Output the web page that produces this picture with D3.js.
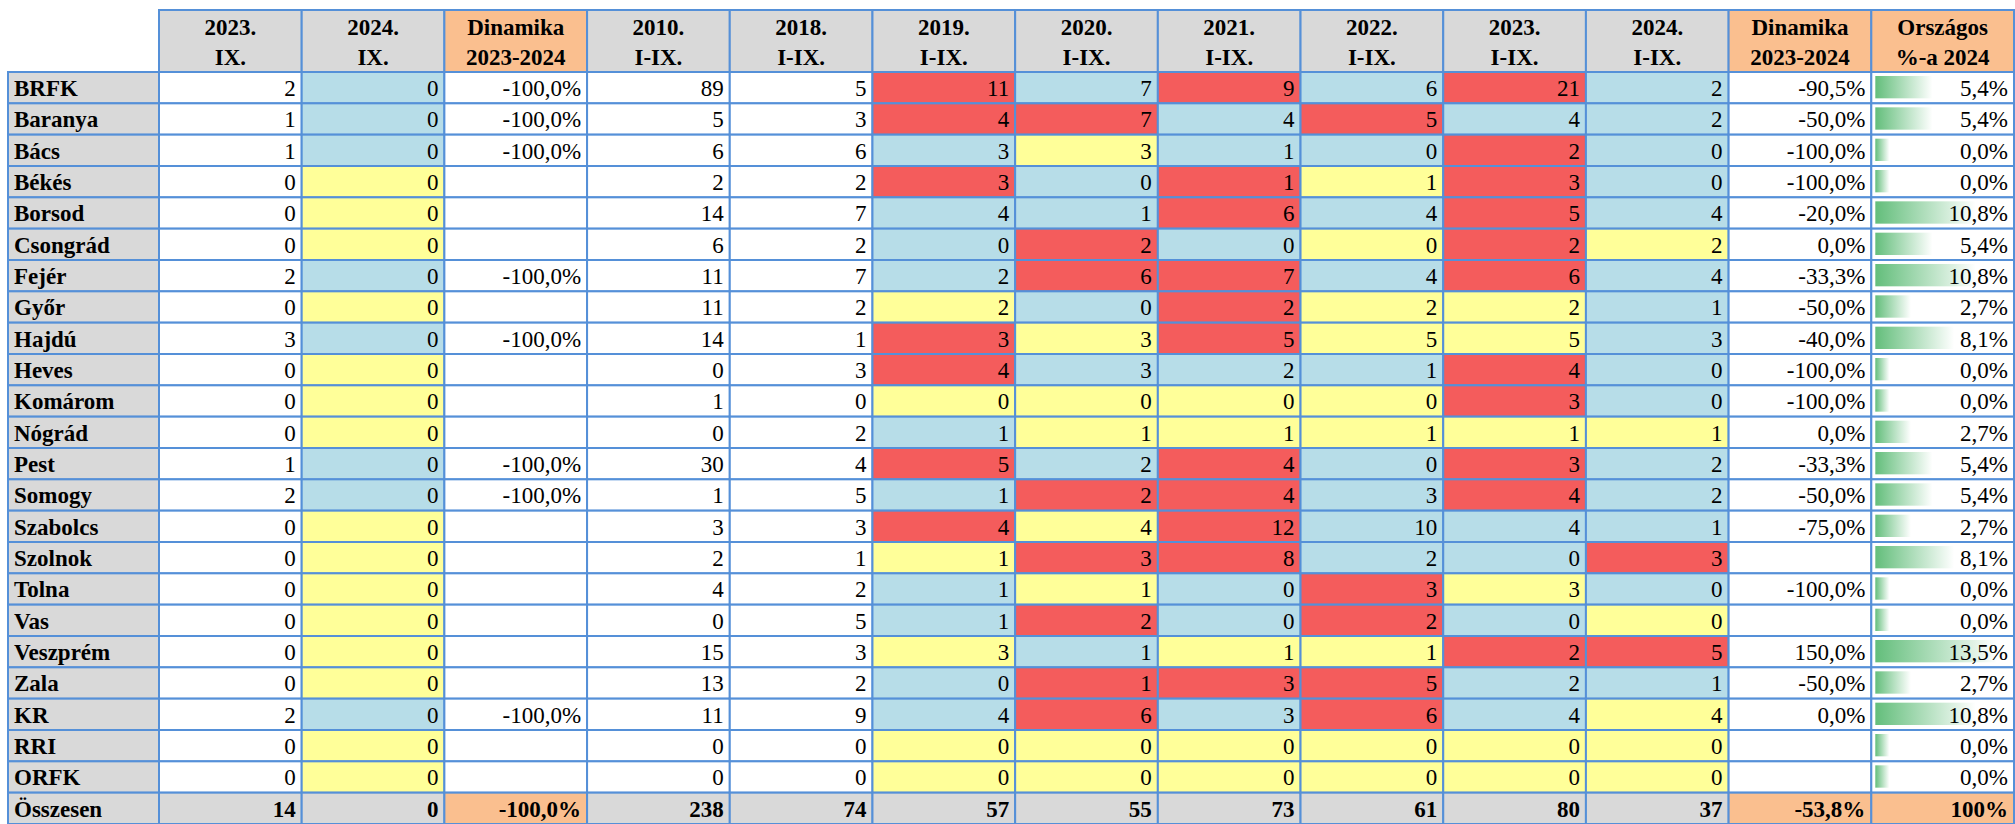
<!DOCTYPE html>
<html>
<head>
<meta charset="utf-8">
<script src="https://cdn.jsdelivr.net/npm/d3@7"></script>
<style>
body { margin: 0; background: #fff; }
text { font-family: "Liberation Serif", "Times New Roman", serif; fill: #000; }
.head { font-size: 23px; font-weight: bold; }
.lab { font-size: 23px; font-weight: bold; }
.val { font-size: 23px; }
.tot { font-size: 23px; font-weight: bold; }
</style>
</head>
<body>
<svg></svg>
<script>
var rowLabels = ["BRFK", "Baranya", "Bács", "Békés", "Borsod", "Csongrád", "Fejér", "Győr", "Hajdú", "Heves",
  "Komárom", "Nógrád", "Pest", "Somogy", "Szabolcs", "Szolnok", "Tolna", "Vas", "Veszprém", "Zala", "KR", "RRI", "ORFK"];
var totalLabel = "Összesen";

var ix2023 = [2, 1, 1, 0, 0, 0, 2, 0, 3, 0, 0, 0, 1, 2, 0, 0, 0, 0, 0, 0, 2, 0, 0];
var ix2024 = [0, 0, 0, 0, 0, 0, 0, 0, 0, 0, 0, 0, 0, 0, 0, 0, 0, 0, 0, 0, 0, 0, 0];
var dynIX = [-100, -100, -100, null, null, null, -100, null, -100, null, null, null, -100, -100, null, null, null, null, null, null, -100, null, null];

var y2010 = [89, 5, 6, 2, 14, 6, 11, 11, 14, 0, 1, 0, 30, 1, 3, 2, 4, 0, 15, 13, 11, 0, 0];
var y2018 = [5, 3, 6, 2, 7, 2, 7, 2, 1, 3, 0, 2, 4, 5, 3, 1, 2, 5, 3, 2, 9, 0, 0];
var y2019 = [11, 4, 3, 3, 4, 0, 2, 2, 3, 4, 0, 1, 5, 1, 4, 1, 1, 1, 3, 0, 4, 0, 0];
var y2020 = [7, 7, 3, 0, 1, 2, 6, 0, 3, 3, 0, 1, 2, 2, 4, 3, 1, 2, 1, 1, 6, 0, 0];
var y2021 = [9, 4, 1, 1, 6, 0, 7, 2, 5, 2, 0, 1, 4, 4, 12, 8, 0, 0, 1, 3, 3, 0, 0];
var y2022 = [6, 5, 0, 1, 4, 0, 4, 2, 5, 1, 0, 1, 0, 3, 10, 2, 3, 2, 1, 5, 6, 0, 0];
var y2023 = [21, 4, 2, 3, 5, 2, 6, 2, 5, 4, 3, 1, 3, 4, 4, 0, 3, 0, 2, 2, 4, 0, 0];
var y2024 = [2, 2, 0, 0, 4, 2, 4, 1, 3, 0, 0, 1, 2, 2, 1, 3, 0, 0, 5, 1, 4, 0, 0];
var dynI = [-90.5, -50, -100, -100, -20, 0, -33.3, -50, -40, -100, -100, 0, -33.3, -50, -75, null, -100, null, 150, -50, 0, null, null];
var share2024 = [5.4, 5.4, 0, 0, 10.8, 5.4, 10.8, 2.7, 8.1, 0, 0, 2.7, 5.4, 5.4, 2.7, 8.1, 0, 0, 13.5, 2.7, 10.8, 0, 0];

var totals = ["14", "0", "-100,0%", "238", "74", "57", "55", "73", "61", "80", "37", "-53,8%", "100%"];

var headTop = ["2023.", "2024.", "Dinamika", "2010.", "2018.", "2019.", "2020.", "2021.", "2022.", "2023.", "2024.", "Dinamika", "Országos"];
var headBottom = ["IX.", "IX.", "2023-2024", "I-IX.", "I-IX.", "I-IX.", "I-IX.", "I-IX.", "I-IX.", "I-IX.", "I-IX.", "2023-2024", "%-a 2024"];

// columns: values, which column it is compared to (for colouring), kind
var columns = [
  { vals: ix2023, prev: null, kind: "num" },
  { vals: ix2024, prev: ix2023, kind: "num" },
  { vals: dynIX, prev: null, kind: "pct", orange: true },
  { vals: y2010, prev: null, kind: "num" },
  { vals: y2018, prev: null, kind: "num" },
  { vals: y2019, prev: y2018, kind: "num" },
  { vals: y2020, prev: y2019, kind: "num" },
  { vals: y2021, prev: y2020, kind: "num" },
  { vals: y2022, prev: y2021, kind: "num" },
  { vals: y2023, prev: y2022, kind: "num" },
  { vals: y2024, prev: y2023, kind: "num" },
  { vals: dynI, prev: null, kind: "pct", orange: true },
  { vals: share2024, prev: null, kind: "bar", orange: true }
];

var W = 2015, H = 824;
var borderColor = "#5590d8";
var gray = "#d9d9d9", orange = "#fabf8f";
var red = "#f45c5c", blue = "#b7dde8", yellow = "#ffff99";

var svg = d3.select("svg").attr("width", W).attr("height", H);

var x = d3.scaleBand().domain(d3.range(columns.length)).range([159, 2014]);
var y = d3.scaleBand().domain(rowLabels.concat([totalLabel])).range([72, 824]);
var labelX0 = 8;
var headY0 = 10;

var hu = d3.formatLocale({ decimal: ",", thousands: " ", grouping: [3], currency: ["", ""], minus: "-" });
var f1 = hu.format(".1f");

var defs = svg.append("defs");
var grad = defs.append("linearGradient").attr("id", "bargrad");
grad.append("stop").attr("offset", "0%").attr("stop-color", "#63be7b");
grad.append("stop").attr("offset", "100%").attr("stop-color", "#ffffff");

var barW = d3.scaleLinear().domain([0, d3.max(share2024)]).range([14, 122]);

function cellFill(col, i) {
  if (col.prev === null) return "#ffffff";
  var v = col.vals[i], p = col.prev[i];
  if (v > p) return red;
  if (v < p) return blue;
  return yellow;
}

// header row
var head = svg.append("g").selectAll("g")
  .data(columns)
  .enter()
  .append("g");

head.append("rect")
  .attr("x", function (d, i) { return x(i); })
  .attr("y", headY0)
  .attr("width", x.bandwidth())
  .attr("height", y.range()[0] - headY0)
  .attr("fill", function (d) { return d.orange ? orange : gray; })
  .attr("stroke", borderColor)
  .attr("stroke-width", 2);

head.append("text")
  .attr("class", "head")
  .attr("x", function (d, i) { return x(i) + x.bandwidth() / 2; })
  .attr("y", 35)
  .attr("text-anchor", "middle")
  .text(function (d, i) { return headTop[i]; });

head.append("text")
  .attr("class", "head")
  .attr("x", function (d, i) { return x(i) + x.bandwidth() / 2; })
  .attr("y", 65)
  .attr("text-anchor", "middle")
  .text(function (d, i) { return headBottom[i]; });

// row label column
var labels = svg.append("g").selectAll("g")
  .data(y.domain())
  .enter()
  .append("g");

labels.append("rect")
  .attr("x", labelX0)
  .attr("y", function (d) { return y(d); })
  .attr("width", x.range()[0] - labelX0)
  .attr("height", y.bandwidth())
  .attr("fill", gray)
  .attr("stroke", borderColor)
  .attr("stroke-width", 2);

labels.append("text")
  .attr("class", "lab")
  .attr("x", labelX0 + 6)
  .attr("y", function (d) { return y(d) + 24; })
  .text(function (d) { return d; });

// body cells
columns.forEach(function (col, ci) {
  var g = svg.append("g");
  var cells = g.selectAll("g")
    .data(rowLabels)
    .enter()
    .append("g");

  cells.append("rect")
    .attr("x", x(ci))
    .attr("y", function (d) { return y(d); })
    .attr("width", x.bandwidth())
    .attr("height", y.bandwidth())
    .attr("fill", function (d, i) { return cellFill(col, i); })
    .attr("stroke", borderColor)
    .attr("stroke-width", 2);

  if (col.kind === "bar") {
    cells.append("rect")
      .attr("x", x(ci) + 4)
      .attr("y", function (d) { return y(d) + 4; })
      .attr("width", function (d, i) { return barW(col.vals[i]); })
      .attr("height", y.bandwidth() - 9)
      .attr("fill", "url(#bargrad)");
  }

  cells.append("text")
    .attr("class", "val")
    .attr("x", x(ci) + x.bandwidth() - 6)
    .attr("y", function (d) { return y(d) + 24; })
    .attr("text-anchor", "end")
    .text(function (d, i) {
      var v = col.vals[i];
      if (v === null) return "";
      if (col.kind === "num") return v;
      return f1(v) + "%";
    });

  // total row
  var tg = g.append("g");
  tg.append("rect")
    .attr("x", x(ci))
    .attr("y", y(totalLabel))
    .attr("width", x.bandwidth())
    .attr("height", y.bandwidth())
    .attr("fill", col.kind === "num" ? gray : orange)
    .attr("stroke", borderColor)
    .attr("stroke-width", 2);
  tg.append("text")
    .attr("class", "tot")
    .attr("x", x(ci) + x.bandwidth() - 6)
    .attr("y", y(totalLabel) + 24)
    .attr("text-anchor", "end")
    .text(totals[ci]);
});
</script>
</body>
</html>
